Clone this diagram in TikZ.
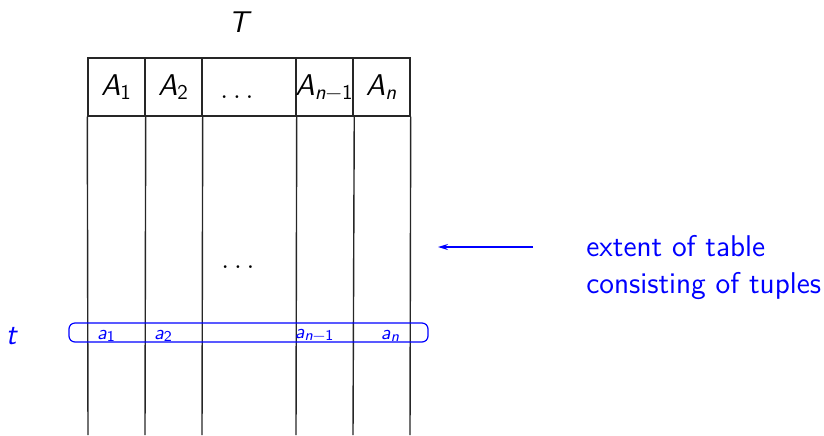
\documentclass[tikz,border=0pt]{standalone}
\usepackage{fontspec}
\usetikzlibrary{arrows.meta}
\newcommand{\mv}[1]{\textsl{#1}}
\newcommand{\msub}[2]{\textsl{#1}\textsubscript{#2}}
\makeatletter
\newcommand{\ssub}[2]{\textsl{#1}\raisebox{-0.3ex}{\fontsize{7.5}{8}\selectfont #2}}
\makeatother
\tikzset{
  cell/.style={draw=black!85, line width=0.7pt, minimum width=28.5pt, minimum height=29pt, inner sep=0pt, font=\fontsize{15}{17}\sffamily},
  colline/.style={draw=black!85, line width=0.7pt},
  bigtext/.style={font=\fontsize{15}{17}\sffamily, inner sep=0pt},
  bluetext/.style={text=blue, font=\fontsize{15}{18.5}\sffamily, inner sep=0pt},
  smalllab/.style={text=blue, font=\fontsize{10}{11}\sffamily, inner sep=0pt},
  tuplebox/.style={draw=blue, line width=0.6pt, rounded corners=3pt},
  ptr/.style={draw=blue, line width=0.6pt, -{Stealth[length=5pt,width=3pt]}}
}
\begin{document}
\begin{tikzpicture}[x=0.5pt,y=-0.5pt]
\useasboundingbox (0,0) rectangle (824,435);
% title
\node[bigtext] (title) at (240,22) {\mv{T}};
% header cells
\node[cell] (h1) at (116.5,87) {\msub{A}{1}};
\node[cell] (h2) at (173.5,87) {\msub{A}{2}};
\node[cell, minimum width=47pt] (h3) at (249,87) {};
\node[bigtext] (hdots) at (237,97) {$\ldots$};
\node[cell] (h4) at (324.5,87) {\msub{A}{\textsl{n}−1}};
\node[cell] (h5) at (381.5,87) {\msub{A}{\textsl{n}}};
% column bottoms
\coordinate (b0) at (88,435);
\coordinate (b1) at (145,435);
\coordinate (b2) at (202,435);
\coordinate (b3) at (296,435);
\coordinate (b4) at (353,435);
\coordinate (b5) at (410,435);
\draw[colline] (h1.south west) -- (b0);
\draw[colline] (h1.south east) -- (b1);
\draw[colline] (h2.south east) -- (b2);
\draw[colline] (h3.south east) -- (b3);
\draw[colline] (h4.south east) -- (b4);
\draw[colline] (h5.south east) -- (b5);
% middle dots
\node[bigtext] (mdots) at (238,267) {$\ldots$};
% tuple
\node[tuplebox, minimum width=179.5pt, minimum height=9.5pt, inner sep=0pt] (tuple) at (248.5,332.5) {};
\node[smalllab] (a1) at (106,336) {\ssub{a}{1}};
\node[smalllab] (a2) at (163,336) {\ssub{a}{2}};
\node[smalllab] (a3) at (314,335) {\ssub{a}{\textsl{n}−1}};
\node[smalllab] (a4) at (390,336) {\ssub{a}{\textsl{n}}};
\node[bluetext] (t) at (12,336) {\mv{t}};
% extent annotation
\node[bluetext, align=left, anchor=west] (ext) at (586,268) {extent of table\\consisting of tuples};
\coordinate (arrstart) at (533,247);
\coordinate (arrend) at (438,247);
\draw[ptr] (arrstart) -- (arrend);
\end{tikzpicture}
\end{document}
